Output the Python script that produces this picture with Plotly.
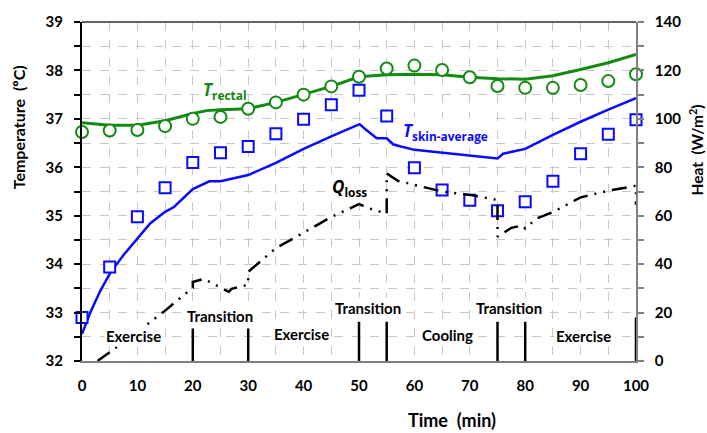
import plotly.graph_objects as go

# ---------------- data ----------------
time_meas = [0, 5, 10, 15, 20, 25, 30, 35, 40, 45, 50, 55, 60, 65, 70, 75, 80, 85, 90, 95, 100]
rectal_meas = [36.73, 36.76, 36.77, 36.85, 37.00, 37.04, 37.21, 37.34, 37.50, 37.67, 37.87,
               38.04, 38.10, 38.01, 37.86, 37.68, 37.64, 37.64, 37.70, 37.78, 37.92]
skin_meas = [32.90, 33.94, 34.98, 35.58, 36.10, 36.30, 36.43, 36.69, 36.99, 37.29, 37.59,
             37.06, 35.99, 35.53, 35.32, 35.10, 35.29, 35.71, 36.28, 36.68, 36.98]

time_rectal_model = [0, 5, 10, 15, 20, 22.5, 25, 30, 35, 40, 45, 50, 55, 60, 65, 70, 75, 80, 85, 90, 95, 100]
rectal_model = [36.92, 36.87, 36.87, 36.96, 37.11, 37.17, 37.19, 37.21, 37.34, 37.50, 37.67, 37.87,
                37.91, 37.92, 37.91, 37.86, 37.83, 37.82, 37.89, 38.02, 38.16, 38.33]

time_skin_model = [0, 1.5, 3.3, 5.1, 7.5, 10, 12.3, 15, 16.6, 20, 23, 25, 30, 35, 40, 45, 50.1,
                   51.1, 53.2, 55, 56.2, 60, 65, 70, 75, 76, 80, 85, 90, 95, 100]
skin_model = [32.56, 33.00, 33.45, 33.82, 34.19, 34.52, 34.84, 35.08, 35.18, 35.55, 35.71, 35.71,
              35.84, 36.09, 36.38, 36.64, 36.89, 36.79, 36.60, 36.60, 36.47, 36.36, 36.30, 36.24,
              36.18, 36.28, 36.38, 36.67, 36.94, 37.19, 37.43]

time_qloss = [2.8, 10, 15, 20, 20, 22, 24, 26.5, 27, 30, 30, 35, 40, 45, 50, 52, 55, 55, 57, 60,
              65, 70, 75, 75, 77.5, 79.5, 80, 82, 85, 90, 95, 100, 100]
qloss = [0, 11.9, 20.8, 30.3, 32.6, 33.9, 31.5, 28.6, 29.8, 31.5, 36.8, 46.6, 53.0, 59.5, 64.8,
         62.9, 60.8, 77.5, 74.4, 72.8, 70.0, 68.6, 66.5, 51.3, 55.0, 56.0, 54.7, 58.8, 61.5, 67.6,
         70.3, 72.4, 64.5]

phase_bounds = [20, 30, 50, 55, 75, 80, 100]
phase_bar_tops = [32.67, 32.67, 32.81, 32.81, 32.81, 32.81, 32.90]

phase_names = ["Exercise", "Transition", "Exercise", "Transition", "Cooling", "Transition", "Exercise"]
phase_label_t = [9.3, 24.9, 39.6, 51.7, 65.9, 77.1, 90.5]
phase_label_T = [32.51, 32.92, 32.55, 33.10, 32.53, 33.10, 32.51]

x_ticks = list(range(0, 101, 10))
y_ticks = list(range(32, 40))
y2_ticks = list(range(0, 141, 20))

GREEN = "#138a13"
BLUE = "#0a0aff"
FONT = "Lato"
LBLFONT = "Open Sans"

fig = go.Figure()

# model lines
fig.add_trace(go.Scatter(x=time_rectal_model, y=rectal_model, mode="lines",
                         line=dict(color=GREEN, width=3), showlegend=False))
fig.add_trace(go.Scatter(x=time_skin_model, y=skin_model, mode="lines",
                         line=dict(color=BLUE, width=2.5), showlegend=False))
fig.add_trace(go.Scatter(x=time_qloss, y=qloss, mode="lines", yaxis="y2",
                         line=dict(color="black", width=2.5, dash="15px,7px,2px,7px,2px,7px"),
                         showlegend=False))
# measured markers
fig.add_trace(go.Scatter(x=time_meas, y=rectal_meas, mode="markers", cliponaxis=False,
                         marker=dict(symbol="circle", size=12, color="white",
                                     line=dict(color=GREEN, width=2)), showlegend=False))
fig.add_trace(go.Scatter(x=time_meas, y=skin_meas, mode="markers", cliponaxis=False,
                         marker=dict(symbol="square", size=11, color="white",
                                     line=dict(color=BLUE, width=2)), showlegend=False))

shapes = []
for t, top in zip(phase_bounds, phase_bar_tops):
    shapes.append(dict(type="line", xref="x", yref="y", x0=t, x1=t, y0=32, y1=top,
                       line=dict(color="black", width=2.5)))
# top border
shapes.append(dict(type="line", xref="paper", yref="paper", x0=0, x1=1, y0=1, y1=1,
                   line=dict(color="#303030", width=1.5)))

annotations = []
for name, t, T in zip(phase_names, phase_label_t, phase_label_T):
    annotations.append(dict(x=t, y=T, xref="x", yref="y", text=name, showarrow=False,
                            xanchor="center", yanchor="middle",
                            font=dict(family=FONT, size=15, color="black", weight="bold"),
                            bgcolor="white"))

annotations += [
    dict(x=25.9, y=37.58, xref="x", yref="y", showarrow=False, xanchor="center", yanchor="middle",
         text="<b><i>T</i><sub>rectal</sub></b>",
         font=dict(family=LBLFONT, size=17, color=GREEN)),
    dict(x=65.6, y=36.73, xref="x", yref="y", showarrow=False, xanchor="center", yanchor="middle",
         text="<b><i>T</i><sub>skin-average</sub></b>",
         font=dict(family=LBLFONT, size=17, color=BLUE), bgcolor="white"),
    dict(x=48.2, y=35.58, xref="x", yref="y", showarrow=False, xanchor="center", yanchor="middle",
         text="<b><i>Q</i><sub>loss</sub></b>",
         font=dict(family=LBLFONT, size=17, color="black"), bgcolor="white"),
    dict(x=(18.5 - 82) / 554, y=(361 - 125) / 343, xref="paper", yref="paper", showarrow=False,
         xanchor="center", yanchor="middle", textangle=-90,
         text="<b>Temperature  (ºC)</b>", font=dict(family=FONT, size=16, color="black")),
    dict(x=(696 - 82) / 554, y=(361 - 148) / 343, xref="paper", yref="paper", showarrow=False,
         xanchor="center", yanchor="middle", textangle=-90,
         text="<b>Heat  (W/m<sup>2</sup>)</b>", font=dict(family=FONT, size=15.5, color="black")),
    dict(x=(452 - 82) / 554, y=(361 - 421) / 343, xref="paper", yref="paper", showarrow=False,
         xanchor="center", yanchor="middle",
         text="<b>Time  (min)</b>", font=dict(family=FONT, size=18, color="black")),
]

tickfont = dict(family=FONT, size=15, color="black", weight="bold")

fig.update_layout(
    width=707, height=433,
    margin=dict(l=82, r=71, t=18, b=72),
    paper_bgcolor="white", plot_bgcolor="white",
    shapes=shapes, annotations=annotations,
    xaxis=dict(range=[0, 100], tickvals=x_ticks, ticks="", tickfont=tickfont,
               ticklabelstandoff=10,
               showline=True, linecolor="#808080", linewidth=2,
               showgrid=True, gridcolor="#c8c8c8", griddash="dash", gridwidth=1,
               minor=dict(dtick=5, showgrid=True, gridcolor="#c8c8c8", griddash="dash"),
               zeroline=False),
    yaxis=dict(range=[32, 39], tickvals=y_ticks, ticks="outside", ticklen=6, tickwidth=1.5,
               tickcolor="black", tickfont=tickfont, ticklabelstandoff=8,
               showline=True, linecolor="black", linewidth=2,
               showgrid=True, gridcolor="#c8c8c8", griddash="dash", gridwidth=1,
               minor=dict(dtick=0.5, showgrid=True, gridcolor="#c8c8c8", griddash="dash",
                          ticks="outside", ticklen=6, tickcolor="black"),
               zeroline=False),
    yaxis2=dict(range=[0, 140], tickvals=y2_ticks, overlaying="y", side="right",
                ticks="outside", ticklen=6, tickwidth=1.5, tickcolor="#808080",
                tickfont=tickfont, ticklabelstandoff=8,
                showline=True, linecolor="#808080", linewidth=1.5, showgrid=False,
                minor=dict(dtick=10, ticks="outside", ticklen=6, tickcolor="#808080"),
                zeroline=False),
)

fig.write_html("out.html", config={"displayModeBar": False},
               post_script="document.body.style.margin='0';")
